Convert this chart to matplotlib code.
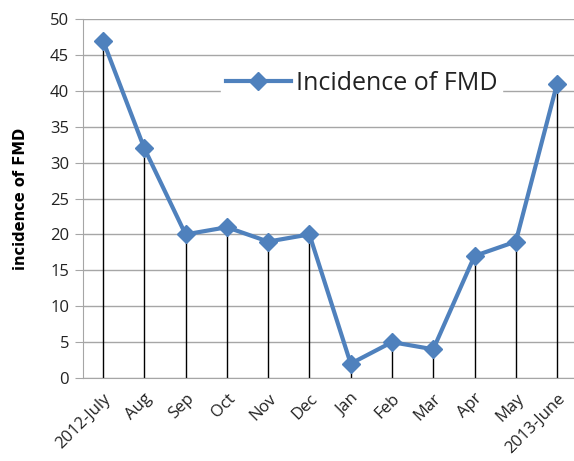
import matplotlib.pyplot as plt
from matplotlib.lines import Line2D

months = ['2012-July', 'Aug', 'Sep', 'Oct', 'Nov', 'Dec',
          'Jan', 'Feb', 'Mar', 'Apr', 'May', '2013-June']
incidence = [47, 32, 20, 21, 19, 20, 2, 5, 4, 17, 19, 41]

blue = '#4F81BD'
grid = '#A6A6A6'

fig = plt.figure(figsize=(5.74, 4.61), dpi=100, facecolor='white')
ax = fig.add_axes([0.1446, 0.180, 0.8554, 0.7788])

x = list(range(len(months)))
ax.vlines(x, 0, incidence, colors='black', linewidth=1, zorder=2)
ax.plot(x, incidence, color=blue, linewidth=3, marker='D', markersize=9,
        zorder=3, label='Incidence of FMD')

ax.set_ylim(0, 50)
ax.set_yticks(range(0, 51, 5))
ax.set_xlim(-0.485, 11.41)
ax.set_xticks(x)
ax.set_xticklabels(months, rotation=45, ha='right', rotation_mode='anchor',
                   fontsize=12, family='Open Sans', color='#222222')
for lbl in ax.get_yticklabels():
    lbl.set_fontsize(12)
    lbl.set_family('Open Sans')
    lbl.set_color('#222222')

ax.yaxis.grid(True, color=grid, linewidth=1)
ax.set_axisbelow(True)
for s in ['top', 'right']:
    ax.spines[s].set_visible(False)
ax.spines['left'].set_color(grid)
ax.spines['bottom'].set_color(grid)
ax.tick_params(axis='y', length=6, color=grid, pad=4)
ax.tick_params(axis='x', length=0, pad=9)

ax.set_ylabel('incidence of FMD', fontsize=10.5, fontweight='bold', labelpad=16)

handle = Line2D([], [], color=blue, linewidth=3, marker='D', markersize=9)
leg = ax.legend([handle], ['Incidence of FMD'], loc='upper left',
                bbox_to_anchor=(0.255, 0.905), frameon=True, fancybox=False,
                edgecolor='white', framealpha=1, handlelength=2.6,
                borderpad=0.2, handletextpad=0.2,
                prop={'family': 'Open Sans', 'size': 18})
for t in leg.get_texts():
    t.set_color('#222222')

fig.savefig('out.png', dpi=100, facecolor='white')
